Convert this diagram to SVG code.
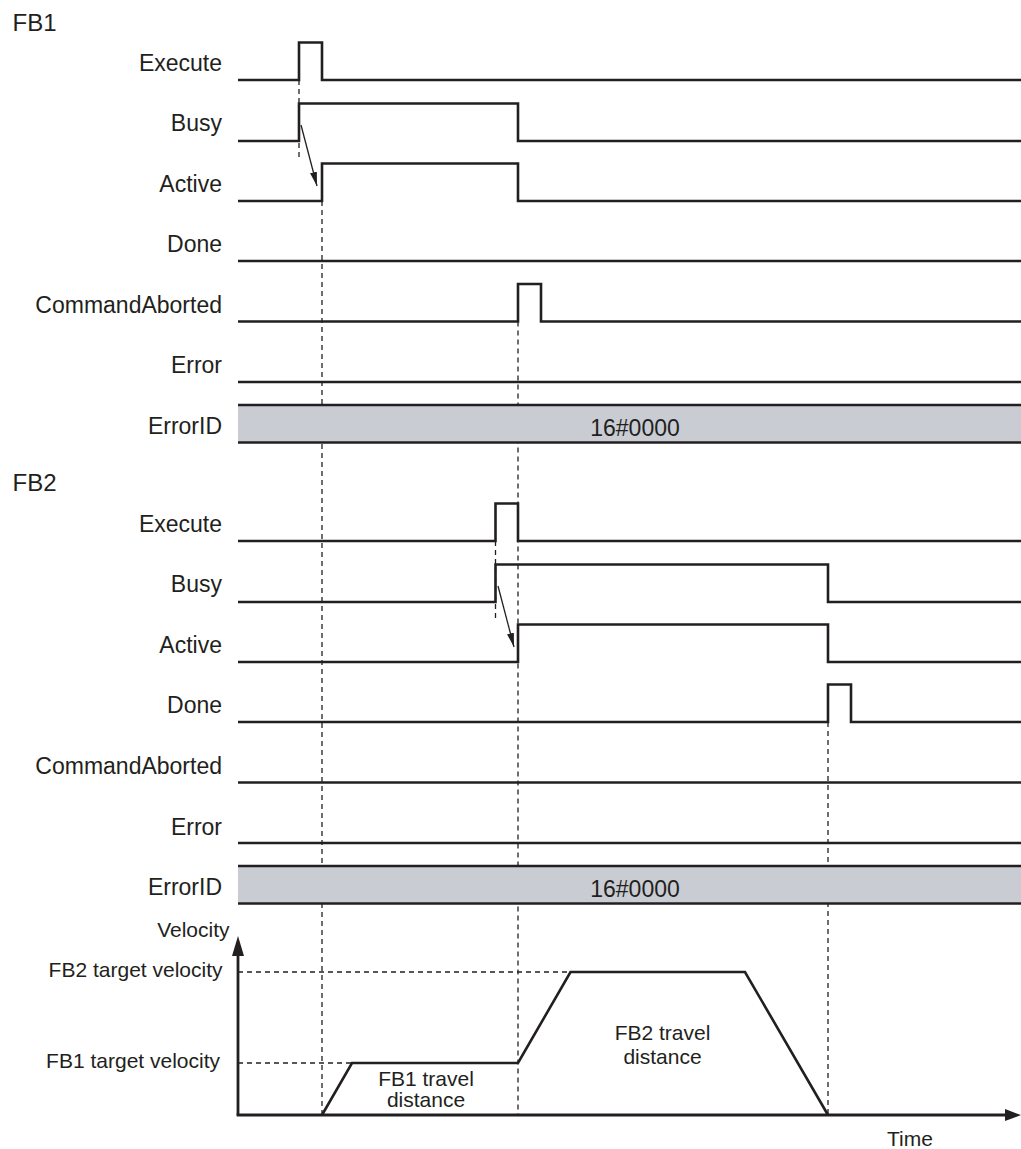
<svg xmlns="http://www.w3.org/2000/svg" width="1021" height="1149" viewBox="0 0 1021 1149">
<defs>
<style>
.lbl{font-family:"Liberation Sans",Arial,sans-serif;font-size:23px;fill:#231f20;text-anchor:end}
.hdr{font-family:"Liberation Sans",Arial,sans-serif;font-size:24px;fill:#231f20}
.vl{font-family:"Liberation Sans",Arial,sans-serif;font-size:21px;fill:#231f20}
.val{font-family:"Liberation Sans",Arial,sans-serif;font-size:23px;fill:#231f20;text-anchor:middle}
.sig{fill:none;stroke:#231f20;stroke-width:2.6;stroke-linejoin:miter}
.dash{fill:none;stroke:#231f20;stroke-width:1.3;stroke-dasharray:5,4}
.bar{fill:#c9cdd3}
.barline{stroke:#231f20;stroke-width:2.6}
.arr{stroke:#231f20;stroke-width:1.3;fill:none}
</style>
<marker id="ah" viewBox="0 0 14 7" refX="14" refY="3.5" markerWidth="14" markerHeight="7" markerUnits="userSpaceOnUse" orient="auto">
<path d="M0,0 L14,3.5 L0,7 Z" fill="#231f20"/>
</marker>
</defs>
<rect width="1021" height="1149" fill="#ffffff"/>

<g id="connectors">
<line class="dash" x1="299" y1="80" x2="299" y2="160"/>
<line class="dash" x1="322" y1="201" x2="322" y2="1115"/>
<line class="dash" x1="518" y1="321.5" x2="518" y2="1115"/>
<line class="dash" x1="495.5" y1="541" x2="495.5" y2="620"/>
<line class="dash" x1="828" y1="722" x2="828" y2="1115"/>
<line class="dash" x1="238" y1="972" x2="570" y2="972"/>
<line class="dash" x1="238" y1="1063" x2="352" y2="1063"/>
<line class="arr" x1="301" y1="125" x2="317" y2="186" marker-end="url(#ah)"/>
<line class="arr" x1="498" y1="586" x2="514" y2="647" marker-end="url(#ah)"/>
</g>

<g id="fb1">
<text class="hdr" x="12.5" y="31">FB1</text>
<g id="fb1-execute"><text class="lbl" x="222" y="71">Execute</text>
<path class="sig" d="M238,80 H299 V42.5 H322 V80 H1021"/></g>
<g id="fb1-busy"><text class="lbl" x="222" y="130.5">Busy</text>
<path class="sig" d="M238,141 H299 V103.5 H518 V141 H1021"/></g>
<g id="fb1-active"><text class="lbl" x="222" y="191.5">Active</text>
<path class="sig" d="M238,201 H322 V163.5 H518 V201 H1021"/></g>
<g id="fb1-done"><text class="lbl" x="222" y="252">Done</text>
<path class="sig" d="M238,261 H1021"/></g>
<g id="fb1-commandaborted"><text class="lbl" x="222" y="312.5">CommandAborted</text>
<path class="sig" d="M238,321.5 H518 V284 H541 V321.5 H1021"/></g>
<g id="fb1-error"><text class="lbl" x="222" y="372.5">Error</text>
<path class="sig" d="M238,382 H1021"/></g>
<g id="fb1-errorid"><text class="lbl" x="222" y="434">ErrorID</text>
<rect class="bar" x="238" y="405" width="783" height="37.5"/>
<line class="barline" x1="238" y1="405" x2="1021" y2="405"/>
<line class="barline" x1="238" y1="442.5" x2="1021" y2="442.5"/>
<text class="val" x="635" y="436">16#0000</text></g>
</g>

<g id="fb2">
<text class="hdr" x="12.5" y="491">FB2</text>
<g id="fb2-execute"><text class="lbl" x="222" y="531.5">Execute</text>
<path class="sig" d="M238,541 H495.5 V503.5 H518 V541 H1021"/></g>
<g id="fb2-busy"><text class="lbl" x="222" y="592">Busy</text>
<path class="sig" d="M238,602 H495.5 V564.5 H828 V602 H1021"/></g>
<g id="fb2-active"><text class="lbl" x="222" y="652.5">Active</text>
<path class="sig" d="M238,662 H518 V624.5 H828 V662 H1021"/></g>
<g id="fb2-done"><text class="lbl" x="222" y="713">Done</text>
<path class="sig" d="M238,722 H828 V684.5 H851 V722 H1021"/></g>
<g id="fb2-commandaborted"><text class="lbl" x="222" y="773.5">CommandAborted</text>
<path class="sig" d="M238,782.5 H1021"/></g>
<g id="fb2-error"><text class="lbl" x="222" y="834.5">Error</text>
<path class="sig" d="M238,843 H1021"/></g>
<g id="fb2-errorid"><text class="lbl" x="222" y="894.5">ErrorID</text>
<rect class="bar" x="238" y="866" width="783" height="37.5"/>
<line class="barline" x1="238" y1="866" x2="1021" y2="866"/>
<line class="barline" x1="238" y1="903.5" x2="1021" y2="903.5"/>
<text class="val" x="635" y="897">16#0000</text></g>
</g>

<g id="velocity-chart">
<line x1="238" y1="1115" x2="238" y2="954" stroke="#231f20" stroke-width="2.8"/>
<polygon points="238,936 232,956 244,956" fill="#231f20"/>
<line x1="236.6" y1="1115" x2="1008" y2="1115" stroke="#231f20" stroke-width="2.8"/>
<polygon points="1021,1115 1005,1109 1005,1121" fill="#231f20"/>
<text class="vl" x="229.5" y="937" text-anchor="end">Velocity</text>
<text class="vl" x="222.5" y="977" text-anchor="end">FB2 target velocity</text>
<text class="vl" x="220" y="1068" text-anchor="end">FB1 target velocity</text>
<path class="sig" d="M322,1115 L352,1063 H518 L570.5,972 H745 L828,1115"/>
<text class="vl" x="426" y="1086" text-anchor="middle">FB1 travel</text>
<text class="vl" x="426" y="1107" text-anchor="middle">distance</text>
<text class="vl" x="662.5" y="1040" text-anchor="middle">FB2 travel</text>
<text class="vl" x="662.5" y="1064" text-anchor="middle">distance</text>
<text class="vl" x="910" y="1146" text-anchor="middle">Time</text>
</g>
</svg>
